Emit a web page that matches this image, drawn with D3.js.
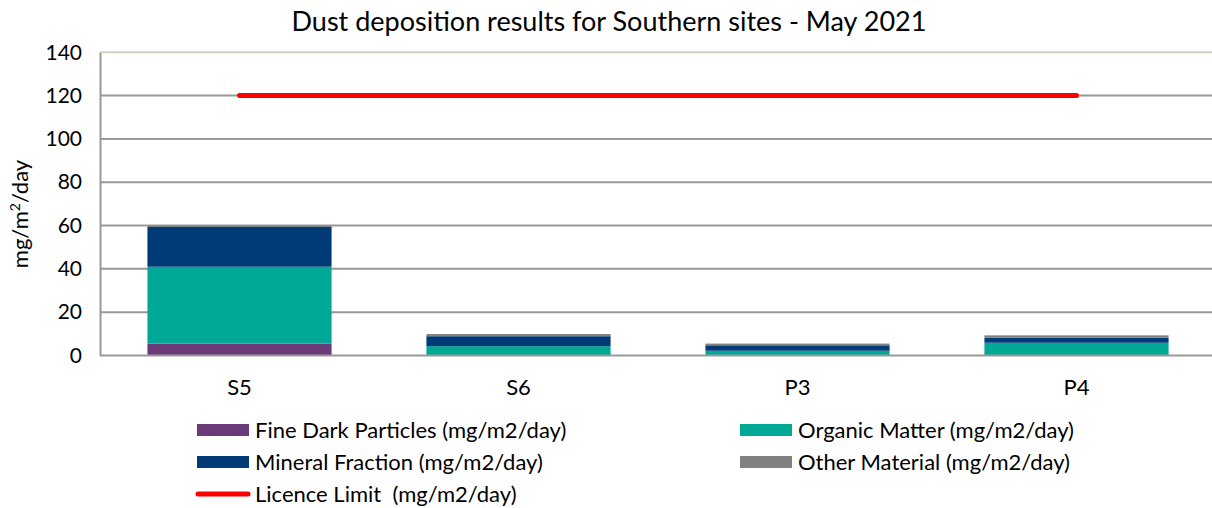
<!DOCTYPE html>
<html>
<head>
<meta charset="utf-8">
<script src="https://cdn.jsdelivr.net/npm/d3@7"></script>
<style>
  body { margin: 0; background: #fff; }
  svg text { font-family: Lato, "Open Sans", sans-serif; fill: #000; }
</style>
</head>
<body>
<svg id="chart" width="1212" height="508"></svg>
<script>
    const sites = ["S5", "S6", "P3", "P4"];
    const fineDark = [5.5, 0.2, 0.1, 0.1];
    const organic = [35.5, 4.1, 2.1, 5.8];
    const mineral = [18.5, 4.6, 2.5, 2.3];
    const other = [0.5, 1.0, 0.8, 1.1];
    const licenceLimit = [120, 120, 120, 120];
    const yTicks = [0, 20, 40, 60, 80, 100, 120, 140];

    const series = [
        {name: "Fine Dark Particles (mg/m2/day)", values: fineDark, color: "#6b3a78"},
        {name: "Organic Matter (mg/m2/day)", values: organic, color: "#00a896"},
        {name: "Mineral Fraction (mg/m2/day)", values: mineral, color: "#003b78"},
        {name: "Other Material (mg/m2/day)", values: other, color: "#808080"}
    ];

(function () {
    const svg = d3.select("#chart");
    const plotLeft = 100, plotRight = 1216, plotTop = 52.3, plotBottom = 355.5;

    const x = d3.scaleBand().domain(sites).range([plotLeft, plotRight]).paddingInner(0.34).paddingOuter(0.17);
    const y = d3.scaleLinear().domain([0, 140]).range([plotBottom, plotTop]);

    // title
    svg.append("text")
        .attr("x", 609).attr("y", 31)
        .attr("text-anchor", "middle")
        .attr("font-size", 27)
        .text("Dust deposition results for Southern sites - May 2021");

    // gridlines
    svg.append("g").selectAll("line")
        .data(yTicks.filter(d => d > 0 && d < 140))
        .join("line")
        .attr("x1", plotLeft).attr("x2", 1212)
        .attr("y1", d => y(d)).attr("y2", d => y(d))
        .attr("stroke", "#999").attr("stroke-width", 2);

    svg.append("line")
        .attr("x1", plotLeft).attr("x2", 1212)
        .attr("y1", y(140)).attr("y2", y(140))
        .attr("stroke", "#d6d2c2").attr("stroke-width", 2);

    // stacked bars
    const rows = sites.map((s, i) => {
        const r = {site: s};
        series.forEach(se => r[se.name] = se.values[i]);
        return r;
    });
    const stack = d3.stack().keys(series.map(s => s.name))(rows);

    svg.append("g").selectAll("g")
        .data(stack)
        .join("g")
        .attr("fill", (d, i) => series[i].color)
        .selectAll("rect")
        .data(d => d)
        .join("rect")
        .attr("x", d => x(d.data.site))
        .attr("width", x.bandwidth())
        .attr("y", d => y(d[1]))
        .attr("height", d => y(d[0]) - y(d[1]));

    // axes
    const yAxis = svg.append("g")
        .attr("transform", "translate(" + plotLeft + ",0)")
        .call(d3.axisLeft(y).tickValues(yTicks).tickSize(0).tickPadding(18));
    yAxis.select(".domain").attr("stroke", "#999").attr("stroke-width", 2);
    yAxis.selectAll("text").attr("font-size", 21).attr("font-family", "Lato, sans-serif");

    const xAxis = svg.append("g")
        .attr("transform", "translate(0," + plotBottom + ")")
        .call(d3.axisBottom(x).tickSize(0).tickPadding(24));
    xAxis.select(".domain").attr("d", "M" + plotLeft + ",0H1212").attr("stroke", "#999").attr("stroke-width", 2);
    xAxis.selectAll("text").attr("font-size", 22).attr("font-family", "Lato, sans-serif");

    // y label
    const yl = svg.append("text")
        .attr("transform", "translate(28,214) rotate(-90)")
        .attr("text-anchor", "middle")
        .attr("font-size", 22);
    yl.append("tspan").text("mg/m");
    yl.append("tspan").attr("font-size", 14).attr("dy", -8).text("2");
    yl.append("tspan").attr("dy", 8).text("/day");

    // licence limit line
    const line = d3.line()
        .x((d, i) => x(sites[i]) + x.bandwidth() / 2)
        .y(d => y(d));
    svg.append("path")
        .datum(licenceLimit)
        .attr("d", line)
        .attr("fill", "none")
        .attr("stroke", "#ff0000")
        .attr("stroke-width", 5)
        .attr("stroke-linecap", "round");

    // legend
    const legendPos = [
        {x: 197, y: 430}, {x: 740, y: 430},
        {x: 197, y: 462}, {x: 740, y: 462}
    ];
    const legendOrder = [0, 1, 2, 3];
    const lg = svg.append("g");
    legendOrder.forEach((si, k) => {
        const p = legendPos[k];
        lg.append("rect")
            .attr("x", p.x).attr("y", p.y - 6)
            .attr("width", 52).attr("height", 12)
            .attr("fill", series[si].color);
        lg.append("text")
            .attr("x", p.x + 58).attr("y", p.y + 8)
            .attr("font-size", 22)
            .text(series[si].name);
    });
    lg.append("line")
        .attr("x1", 198).attr("x2", 248)
        .attr("y1", 494).attr("y2", 494)
        .attr("stroke", "#ff0000").attr("stroke-width", 5)
        .attr("stroke-linecap", "round");
    lg.append("text")
        .attr("x", 255).attr("y", 502)
        .attr("font-size", 22)
        .style("white-space", "pre")
        .text("Licence Limit  (mg/m2/day)");
})();
</script>
</body>
</html>
